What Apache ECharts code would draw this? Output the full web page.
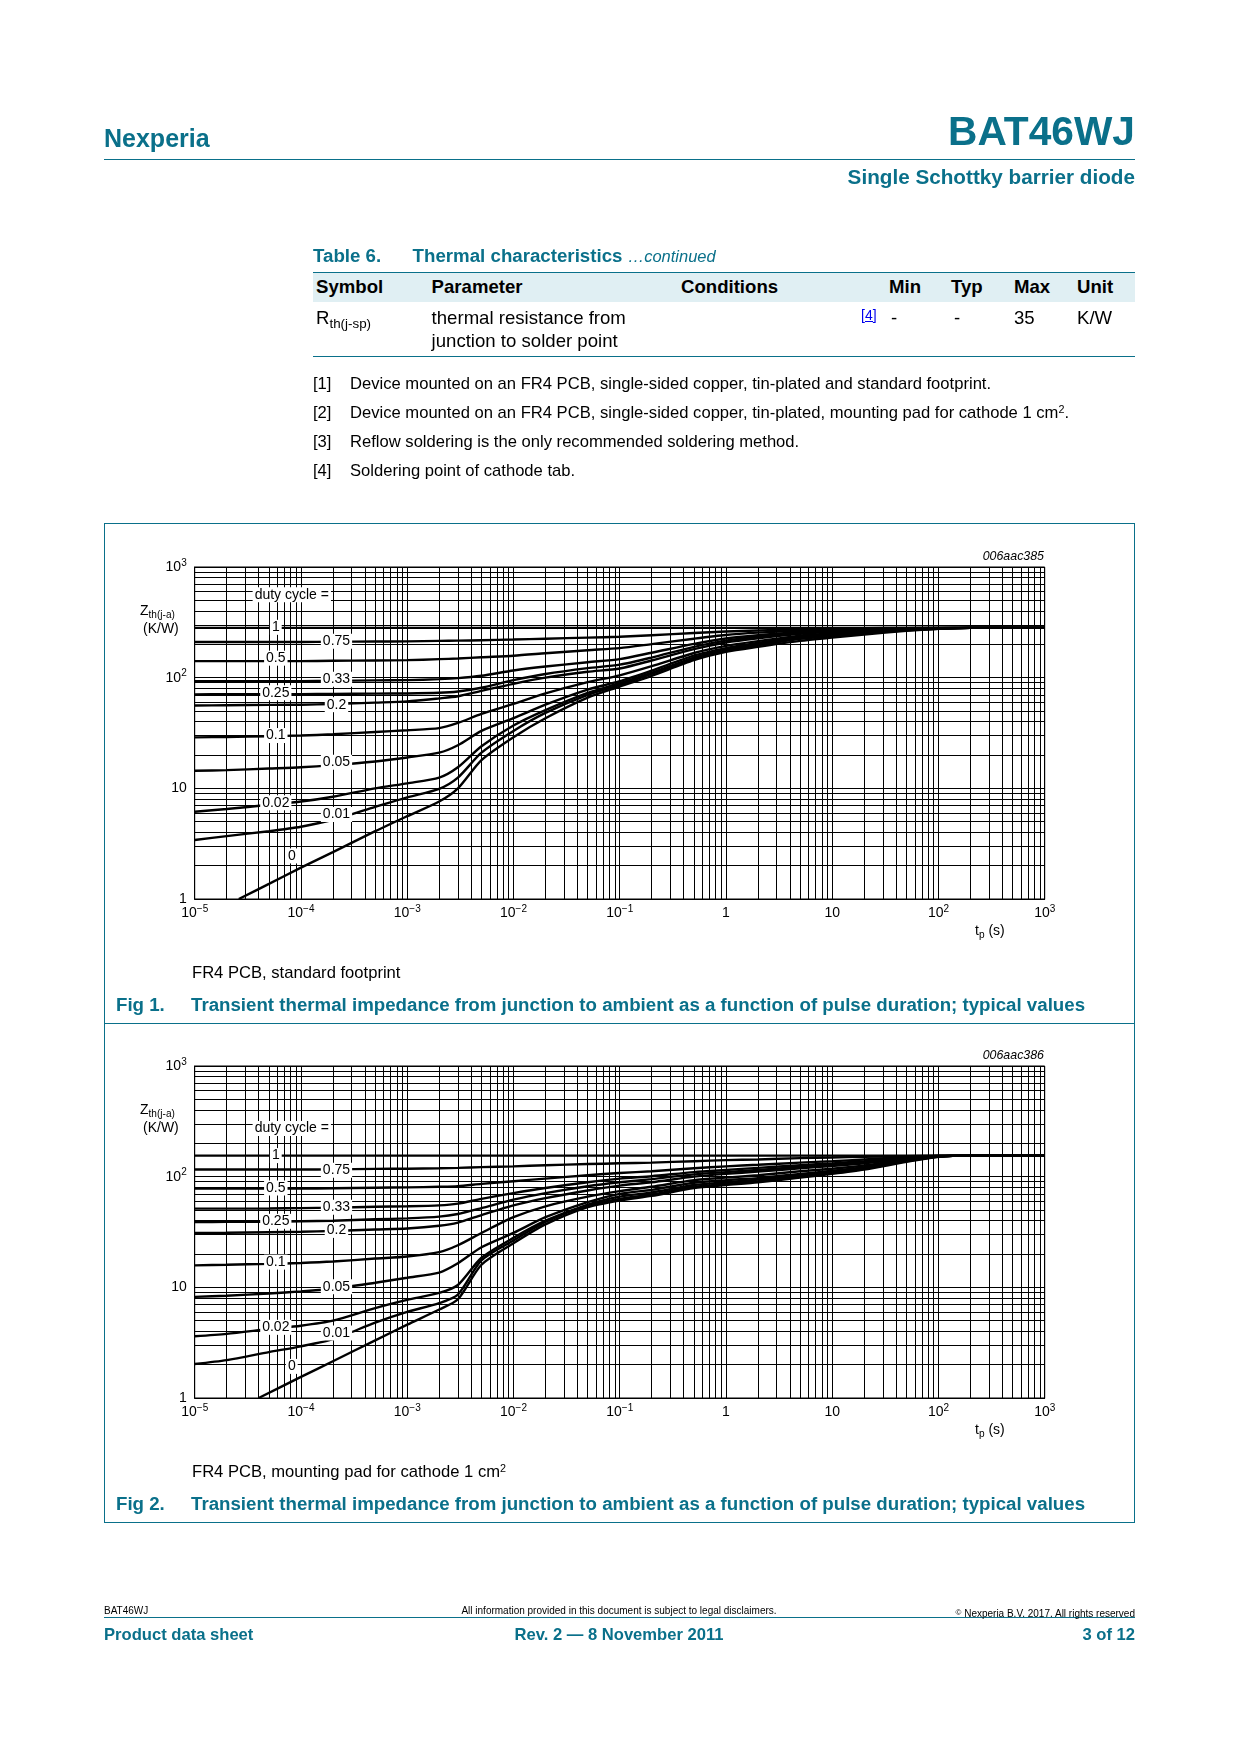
<!DOCTYPE html>
<html><head><meta charset="utf-8">
<script src="https://cdn.jsdelivr.net/npm/echarts@6/dist/echarts.min.js"></script>
<style>
html,body{margin:0;padding:0;background:#fff;}
#page{position:relative;width:1240px;height:1754px;overflow:hidden;font-family:"Liberation Sans",Arial,Helvetica,sans-serif;color:#000;}
#chart{position:absolute;left:0;top:0;width:1240px;height:1754px;}
.t{position:absolute;white-space:nowrap;line-height:1;}
.hl{position:absolute;height:0;border-top:1px solid #0a708a;}
.sb{position:relative;top:0.3em;font-size:0.72em;}
.sp{position:relative;top:-0.45em;font-size:0.65em;}
</style></head>
<body><div id="page">
<div id="chart"></div>
<div style="position:absolute;left:313px;top:272px;width:822px;height:30px;background:#e0eff3;border-top:1px solid #0a708a;box-sizing:border-box;"></div>
<div class="hl" style="left:104px;top:159px;width:1031px;"></div>
<div class="hl" style="left:313px;top:356px;width:822px;"></div>
<div style="position:absolute;left:104px;top:523px;width:1031px;height:1000px;border:1px solid #0a708a;box-sizing:border-box;"></div>
<div class="hl" style="left:104px;top:1023px;width:1031px;"></div>
<div class="hl" style="left:104px;top:1617px;width:1031px;"></div>
</div>
<script>
// ---------------- data ----------------
const tp = [1e-5, 2e-5, 5e-5, 1e-4, 2e-4, 5e-4, 1e-3, 2e-3, 3e-3, 5e-3, 1e-2, 2e-2, 5e-2, 0.1, 0.2, 0.5, 1, 2, 5, 10, 20, 50, 100, 200, 500, 1000];
const dutyLabels = ['1', '0.75', '0.5', '0.33', '0.25', '0.2', '0.1', '0.05', '0.02', '0.01', '0'];
const xTickLabels = [['10','−5'],['10','−4'],['10','−3'],['10','−2'],['10','−1'],['1',''],['10',''],['10','2'],['10','3']];
const yTickLabels = [['1',''],['10',''],['10','2'],['10','3']];

// Fig 1 : FR4 PCB, standard footprint
const fig1_dc1   = [282,282,282,282,282,282,282,282,282,282,282,282,282,282,282,282,282,282,282,282,282,282,282,282,282,282];
const fig1_dc075 = [210,210,210,210,211,212,213,215,216,218,221,225,230,234,242,253,261,267,273,277,280,281.5,282,282,282,282];
const fig1_dc05  = [141,141,141,141,142,143,144,147,149,153,158,166,177,185,201,225,243,255,267,273,277,280,281.5,282,282,282];
const fig1_dc033 = [93,93,93,93,93.5,94.5,95,97,99,104,116,126,138,147,168,202,226,242,259,267,273,278,281,282,282,282];
const fig1_dc025 = [70.7,71,71,71,71.3,71.8,72,73,75,81,95,108,122,131,152,190,216,234,254,263,270,277,280.5,282,282,282];
const fig1_dc02  = [56,56.3,56.8,57,57.8,59.5,61,65,68,76,88,100,113,121,143,181,208,227,249,259,267,276,280,282,282,282];
const fig1_dc01  = [28.9,29.1,29.6,30,30.8,32.3,33.5,35,39,47,58,72,91,105,127,167,194,214,240,251,262,273,279,282,282,282];
const fig1_dc005 = [14.4,14.6,15.1,15.5,16.2,17.5,19,21,24.5,33,43,57,78,93,116,158,185,206,233,245,258,271,278,282,282,282];
const fig1_dc002 = [6.15,6.5,7.1,7.6,8.4,10,11.1,12.5,15.5,24,37,51,73,89,111,152,179,200,228,240,254,269,277,282,282,282];
const fig1_dc001 = [3.41,3.7,4.1,4.5,5.2,6.8,8.3,9.9,12.5,21,33,48,70,86,108,148,175,196,225,237,251,268,277,282,282,282];
const fig1_tp0   = [2.6e-5,5e-5,1e-4,2e-4,5e-4,1e-3,2e-3,3e-3,5e-3,1e-2,2e-2,5e-2,0.1,0.2,0.5,1,2,5,10,20,50,100,200,500,1000];
const fig1_dc0   = [1.0,1.37,1.92,2.65,4.1,5.6,7.6,10,18,29,43,66,83,104,144,171,190,215,230,245,265,276,282,282,282];
const fig1_labelX = [5.8e-5,2.16e-4,5.8e-5,2.16e-4,5.8e-5,2.16e-4,5.8e-5,2.16e-4,5.8e-5,2.16e-4,8.2e-5];
const fig1_labelY = [285,213,150,97,73,57,30,17.2,7.4,5.8,2.45];
const fig1_titleXY = [8.2e-5, 561];

// Fig 2 : FR4 PCB, mounting pad for cathode 1 cm2
const fig2_dc1   = [155,155,155,155,155,155,155,155,155,155,155,155,155,155,155,155,155,155,155,155,155,155,155,155,155,155];
const fig2_dc075 = [116,116,116,116,116.5,117.5,118,119,120,122,124,127,130,132,134,138,141,143,147,149,151,153,154.5,155,155,155];
const fig2_dc05  = [78,78,78,78,78.5,79.5,80,81,82,86,91,96,103,108,112,119,124,128,134,138,143,150,154,155,155,155];
const fig2_dc033 = [51.4,51.4,51.6,52,52.5,53.5,54,55,57,63,71,79,89,96,101,110,115,120,127,132,138,148,153.5,155,155,155];
const fig2_dc025 = [38.9,39,39.2,39.5,40,41.2,42,43.5,46,52,62,71,82,89,95,105,110,115,123,128,135,146,153,155,155,155];
const fig2_dc02  = [31,31.1,31.5,31.8,32.3,33.3,34,36,38.5,45,55,64,75,83,89,100,106,111,119,125,132,145,153,155,155,155];
const fig2_dc01  = [15.8,16,16.3,16.6,17.1,18.2,19,20.8,24,31,43,54,66,74,81,93,98,103,112,118,126,142,152.5,155,155,155];
const fig2_dc005 = [8.2,8.4,8.8,9.2,9.7,11,12.2,13.6,16.5,23,31,43,59,70,76,88,93,97,106,113,122,140,152,155,155,155];
const fig2_dc002 = [3.61,3.8,4.2,4.5,5.0,6.5,7.7,8.9,10.5,18.5,28,40,56,66,72,84,89,94,103,110,120,139,152,155,155,155];
const fig2_dc001 = [2.03,2.2,2.6,2.93,3.4,4.8,6.0,7.2,8.6,17.5,26.5,39,55,63,69,81,86,91,100,108,118,138,151.5,155,155,155];
const fig2_tp0   = [4e-5,1e-4,2e-4,5e-4,1e-3,2e-3,3e-3,5e-3,1e-2,2e-2,5e-2,0.1,0.2,0.5,1,2,5,10,20,50,100,200,500,1000];
const fig2_dc0   = [1.0,1.55,2.15,3.32,4.6,6.3,7.8,16,25,37,53,61,67,79,84,89,98,106,116,136,151,155,155,155];
const fig2_labelX = [5.8e-5,2.16e-4,5.8e-5,2.16e-4,5.8e-5,2.16e-4,5.8e-5,2.16e-4,5.8e-5,2.16e-4,8.2e-5];
const fig2_labelY = [155,114,79,53,39.5,32.7,16.9,10.1,4.35,3.87,1.93];
const fig2_titleXY = [8.2e-5, 272];

// ---------------- page text ----------------
const TEAL = '#0a708a';
const page = document.getElementById('page');
function addText(html, x, cy, fs, align, css) {
  const d = document.createElement('div');
  d.className = 't';
  d.innerHTML = html;
  let s = 'font-size:' + fs + 'px;top:' + (cy - 0.52 * fs + 2.2).toFixed(1) + 'px;';
  if (align === 'right') s += 'right:' + (1240 - x) + 'px;';
  else if (align === 'center') s += 'left:' + x + 'px;transform:translateX(-50%);';
  else s += 'left:' + x + 'px;';
  d.style.cssText = s + (css || '');
  page.appendChild(d);
}
const B = 'font-weight:bold;', TC = 'color:' + TEAL + ';';
addText('Nexperia', 104, 136.4, 25, 'left', B + TC);
addText('BAT46WJ', 1135, 130, 40.7, 'right', B + TC);
addText('Single Schottky barrier diode', 1135, 175.5, 20.7, 'right', B + TC);
addText('Table 6.', 313, 254, 18.7, 'left', B + TC);
addText('Thermal characteristics <span style="font-weight:normal;font-style:italic;font-size:16.5px">…continued</span>', 412.6, 254, 18.7, 'left', B + TC);
addText('Symbol', 316, 285, 18.6, 'left', B);
addText('Parameter', 431.6, 285, 18.6, 'left', B);
addText('Conditions', 681, 285, 18.6, 'left', B);
addText('Min', 889, 285, 18.6, 'left', B);
addText('Typ', 951, 285, 18.6, 'left', B);
addText('Max', 1014, 285, 18.6, 'left', B);
addText('Unit', 1077, 285, 18.6, 'left', B);
addText('R<span class="sb">th(j-sp)</span>', 316, 316.5, 18.6, 'left');
addText('thermal resistance from', 431.6, 316.5, 18.6, 'left');
addText('junction to solder point', 431.6, 339, 18.6, 'left');
addText('[4]', 861, 313, 14, 'left', 'color:#0000ee;text-decoration:underline;');
addText('-', 891, 316.5, 18.6, 'left');
addText('-', 954, 316.5, 18.6, 'left');
addText('35', 1014, 316.5, 18.6, 'left');
addText('K/W', 1077, 316.5, 18.6, 'left');
const notes = ['Device mounted on an FR4 PCB, single-sided copper, tin-plated and standard footprint.',
  'Device mounted on an FR4 PCB, single-sided copper, tin-plated, mounting pad for cathode 1 cm<span class="sp">2</span>.',
  'Reflow soldering is the only recommended soldering method.',
  'Soldering point of cathode tab.'];
const noteY = [382.4, 411.4, 440.5, 469.6];
notes.forEach((n, i) => { addText('[' + (i + 1) + ']', 313, noteY[i], 16.6, 'left'); addText(n, 350, noteY[i], 16.6, 'left'); });

// figure texts
[[0, '006aac385', 'FR4 PCB, standard footprint', 'Fig 1.'], [499, '006aac386', 'FR4 PCB, mounting pad for cathode 1 cm<span class="sp">2</span>', 'Fig 2.']].forEach(f => {
  const o = f[0];
  addText(f[1], 1044, 554.6 + o, 12.4, 'right', 'font-style:italic;');
  addText('Z<span class="sb">th(j-a)</span>', 140, 608 + o, 14, 'left');
  addText('(K/W)', 143, 626 + o, 14, 'left');
  addText('t<span class="sb">p</span> (s)', 975, 928 + o, 14, 'left');
  addText(f[2], 192, 971.6 + o, 16.6, 'left');
  addText(f[3], 116, 1003 + o, 18.7, 'left', B + TC);
  addText('Transient thermal impedance from junction to ambient as a function of pulse duration; typical values', 191, 1003 + o, 18.7, 'left', B + TC);
});

// footer
addText('BAT46WJ', 104, 1609, 10, 'left');
addText('All information provided in this document is subject to legal disclaimers.', 619, 1609, 10, 'center');
addText('<span class="sp" style="font-size:0.8em;top:-0.3em">©</span> Nexperia B.V. 2017. All rights reserved', 1135, 1612, 10, 'right');
addText('Product data sheet', 104, 1633.5, 16.6, 'left', B + TC);
addText('Rev. 2 — 8 November 2011', 619, 1633.5, 16.6, 'center', B + TC);
addText('3 of 12', 1135, 1633.5, 16.6, 'right', B + TC);

// ---------------- chart ----------------
const FONT = '"Liberation Sans", Arial, Helvetica, sans-serif';
function tickFmt(labels, offset) {
  return function (v) {
    const e = Math.round(Math.log10(v));
    const l = labels[e + offset];
    if (!l) return '';
    return l[1] ? '{b|' + l[0] + '}{s|' + l[1] + '}' : '{b|' + l[0] + '}';
  };
}
const rich = {
  b: { fontSize: 14, lineHeight: 18, fontFamily: FONT, color: '#000', verticalAlign: 'middle' },
  s: { fontSize: 10, lineHeight: 8, fontFamily: FONT, color: '#000', verticalAlign: 'top' }
};
const xGridVals = [], yGridVals = [];
for (let e = -5; e < 3; e++) for (let m = 1; m < 10; m++) xGridVals.push(+(m * Math.pow(10, e)).toPrecision(3));
xGridVals.push(1000);
for (let e = 0; e < 3; e++) for (let m = 1; m < 10; m++) yGridVals.push(+(m * Math.pow(10, e)).toPrecision(3));
yGridVals.push(1000);

const figs = [
  { top: 567, curves: [fig1_dc1, fig1_dc075, fig1_dc05, fig1_dc033, fig1_dc025, fig1_dc02, fig1_dc01, fig1_dc005, fig1_dc002, fig1_dc001], tp0: fig1_tp0, c0: fig1_dc0, lx: fig1_labelX, ly: fig1_labelY, title: fig1_titleXY },
  { top: 1066, curves: [fig2_dc1, fig2_dc075, fig2_dc05, fig2_dc033, fig2_dc025, fig2_dc02, fig2_dc01, fig2_dc005, fig2_dc002, fig2_dc001], tp0: fig2_tp0, c0: fig2_dc0, lx: fig2_labelX, ly: fig2_labelY, title: fig2_titleXY }
];

const grids = [], xAxes = [], yAxes = [], series = [];
const curveStyle = { color: '#000', width: 2.4 };
figs.forEach((f, g) => {
  grids.push({ left: 194.7, top: f.top, width: 850, height: 332, show: true, borderColor: '#000', borderWidth: 1, backgroundColor: 'transparent' });
  xAxes.push({
    gridIndex: g, type: 'log', logBase: 10, min: 1e-5, max: 1000,
    axisLine: { show: true, lineStyle: { color: '#000', width: 1 } }, axisTick: { show: false }, splitLine: { show: false },
    axisLabel: { show: true, margin: 5, formatter: tickFmt(xTickLabels, 5), rich: rich, showMinLabel: true, showMaxLabel: true, hideOverlap: false }
  });
  yAxes.push({
    gridIndex: g, type: 'log', logBase: 10, min: 1, max: 1000,
    axisLine: { show: true, lineStyle: { color: '#000', width: 1 } }, axisTick: { show: false }, splitLine: { show: false },
    axisLabel: { show: true, margin: 8, formatter: tickFmt(yTickLabels, 0), rich: rich, showMinLabel: true, showMaxLabel: true, hideOverlap: false }
  });
  // grid lines
  series.push({
    type: 'line', xAxisIndex: g, yAxisIndex: g, data: [[1, 10]], symbol: 'none', lineStyle: { opacity: 0 }, silent: true, z: 1,
    markLine: {
      silent: true, symbol: ['none', 'none'], z: 1, animation: false, precision: 8,
      label: { show: false }, emphasis: { disabled: true },
      lineStyle: { color: '#000', width: 1, type: 'solid' },
      data: xGridVals.map(v => ({ xAxis: v })).concat(yGridVals.map(v => ({ yAxis: v })))
    }
  });
  // curves
  f.curves.forEach(arr => {
    series.push({ type: 'line', xAxisIndex: g, yAxisIndex: g, data: tp.map((x, i) => [x, arr[i]]), symbol: 'none', showSymbol: false,
      smooth: 0.25, lineStyle: curveStyle, z: 3, silent: true, clip: true });
  });
  series.push({ type: 'line', xAxisIndex: g, yAxisIndex: g, data: f.tp0.map((x, i) => [x, f.c0[i]]), symbol: 'none', showSymbol: false,
    smooth: 0.25, lineStyle: curveStyle, z: 3, silent: true, clip: true });
  // curve labels
  const lab = dutyLabels.map((t, i) => [f.lx[i], f.ly[i], t]);
  lab.push([f.title[0], f.title[1], 'duty cycle =']);
  series.push({ type: 'scatter', xAxisIndex: g, yAxisIndex: g, data: lab, symbolSize: 0, silent: true, z: 10,
    itemStyle: { opacity: 1 },
    label: { show: true, position: 'inside', formatter: p => p.data[2], color: '#000', opacity: 1, fontSize: 14, fontFamily: FONT,
      textBorderWidth: 0, textBorderColor: 'transparent', backgroundColor: '#fff', padding: [1, 2, 0, 2] } });
});

const chart = echarts.init(document.getElementById('chart'), null, { renderer: 'canvas' });
chart.setOption({ animation: false, textStyle: { fontFamily: FONT }, grid: grids, xAxis: xAxes, yAxis: yAxes, series: series });
</script>
</body></html>
